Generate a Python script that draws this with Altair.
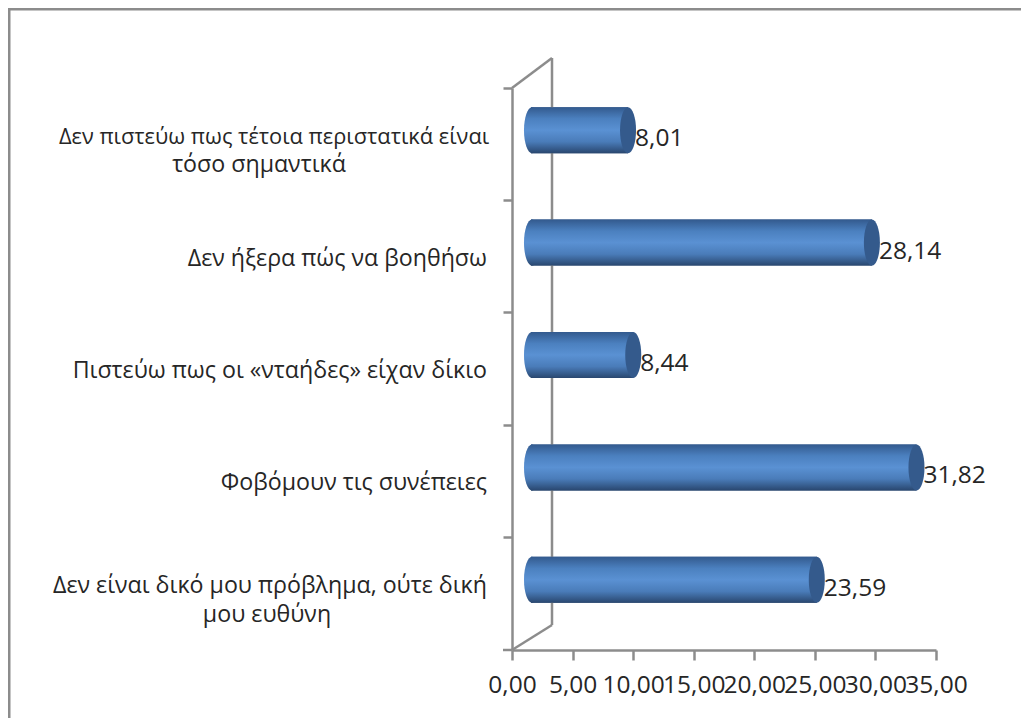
import altair as alt
import pandas as pd

categories = [
    "Δεν πιστεύω πως τέτοια περιστατικά είναι τόσο σημαντικά",
    "Δεν ήξερα πώς να βοηθήσω",
    "Πιστεύω πως οι «νταήδες» είχαν δίκιο",
    "Φοβόμουν τις συνέπειες",
    "Δεν είναι δικό μου πρόβλημα, ούτε δική μου ευθύνη",
]
values = [8.01, 28.14, 8.44, 31.82, 23.59]
x_ticks = [0, 5, 10, 15, 20, 25, 30, 35]
row1_lines = ["Δεν πιστεύω πως τέτοια περιστατικά είναι", "τόσο σημαντικά"]
row5_lines = ["Δεν είναι δικό μου πρόβλημα, ούτε δική", "μου ευθύνη"]

FONT = "Open Sans"
FS = 23.2
FS_NUM = 24.5
TXT = "#262626"
GRAY = "#8c8c8c"

df = pd.DataFrame({"cat": categories, "val": values, "zero": [0] * 5})

xscale = alt.Scale(domain=[0, 35], nice=False)
yscale = alt.Scale(domain=categories, paddingInner=0, paddingOuter=0)
XAX = alt.Axis(
    values=x_ticks, orient="bottom", grid=False,
    domainColor=GRAY, domainWidth=2.5, tickColor=GRAY, tickWidth=2.5, tickSize=10,
    labelExpr="replace(format(datum.value,'.2f'),'.',',')",
    labelFont=FONT, labelFontSize=FS_NUM, labelColor=TXT, labelPadding=13,
    labelOverlap=False, labelFlush=False,
)
YAX = alt.Axis(
    orient="left", grid=False, labels=False, bandPosition=0,
    domainColor=GRAY, domainWidth=2.5, tickColor=GRAY, tickWidth=2.5, tickSize=9,
)
X = alt.X("val:Q", scale=xscale, title=None, axis=XAX)
X0 = alt.X("zero:Q", scale=xscale, title=None, axis=XAX)
Y = alt.Y("cat:N", scale=yscale, sort=categories, title=None, axis=YAX)

grad = alt.Gradient(
    gradient="linear", x1=0, x2=0, y1=0, y2=1,
    stops=[
        alt.GradientStop(color="#335a8e", offset=0),
        alt.GradientStop(color="#4b80bf", offset=0.25),
        alt.GradientStop(color="#5a91d3", offset=0.5),
        alt.GradientStop(color="#4a7cb9", offset=0.75),
        alt.GradientStop(color="#29476f", offset=1),
    ],
)

ELLIPSE = "M-0.348,0A0.348,1,0,1,1,0.348,0A0.348,1,0,1,1,-0.348,0Z"


def line(x1, y1, x2, y2, color=GRAY, w=2.5):
    return alt.Chart(df.head(1)).mark_rule(color=color, strokeWidth=w).encode(
        x=alt.value(x1), x2=alt.value(x2), y=alt.value(y1), y2=alt.value(y2)
    )


def row_line(row, text, center, dy, size=FS):
    d = pd.DataFrame({"cat": [categories[row]], "txt": [text]})
    return alt.Chart(d).mark_text(
        align="center", baseline="middle", dy=dy, font=FONT, fontSize=size, color=TXT
    ).encode(x=alt.value(center), y=Y, text="txt:N")


border = line(-504, -79, 509, -79, w=3) + line(-503, -80, -503, 630, w=3)
wall = line(0, 0, 40, -30) + line(40, -30, 40, 537) + line(40, 537, 0, 562)
bottom_tick = line(-9, 562, 0, 562)

body = alt.Chart(df).mark_bar(
    size=46, yOffset=-14, xOffset=19, x2Offset=19, fill=grad
).encode(x=X0, x2="val:Q", y=Y)

left_cap = alt.Chart(df).mark_point(
    shape=ELLIPSE, size=46 * 46, filled=True, fill=grad, opacity=1, stroke=None,
    xOffset=20, yOffset=-14,
).encode(x=X0, y=Y)

right_cap = alt.Chart(df).mark_point(
    shape=ELLIPSE, size=46 * 46, filled=True, fill="#345a8c", opacity=1, stroke=None,
    xOffset=19, yOffset=-14,
).encode(x=X, y=Y)

data_labels = alt.Chart(df).transform_calculate(
    lab="replace(format(datum.val,'.2f'),'.',',')"
).mark_text(
    align="left", baseline="middle", dx=26, dy=-5, font=FONT, fontSize=FS_NUM, color=TXT
).encode(x=X, y=Y, text="lab:N")

one_labels = alt.Chart(df.iloc[1:4]).mark_text(
    align="right", baseline="middle", dy=2, font=FONT, fontSize=FS, color=TXT
).encode(x=alt.value(-25), y=Y, text="cat:N")

chart = alt.layer(
    body, border, wall, bottom_tick, body, left_cap, right_cap,
    data_labels, one_labels,
    row_line(0, row1_lines[0], -238, -7, 21.8),
    row_line(0, row1_lines[1], -253, 21),
    row_line(4, row5_lines[0], -242, -8),
    row_line(4, row5_lines[1], -245, 21),
).resolve_scale(x="shared", y="shared").properties(
    width=424, height=562,
    padding={"left": 504, "top": 80, "right": 85, "bottom": 68},
    autosize=alt.AutoSizeParams(type="none", contains="content"),
    background="white",
).configure_view(stroke=None)

chart.save("out.html", embed_options={"renderer": "svg", "actions": False})
